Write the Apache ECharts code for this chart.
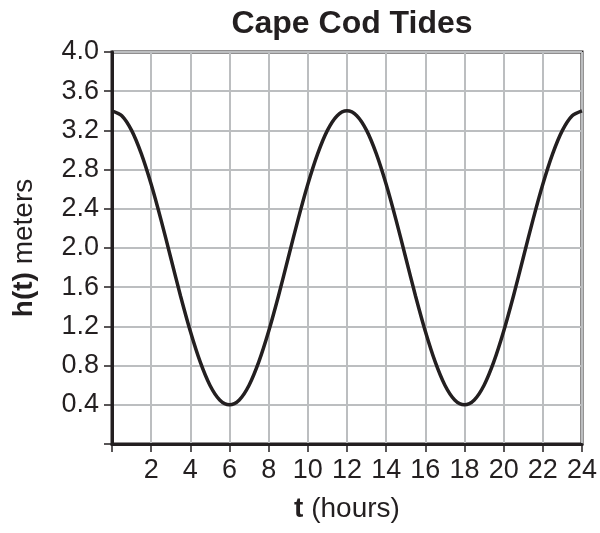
<!DOCTYPE html>
<html>
<head>
<meta charset="utf-8">
<script src="https://cdn.jsdelivr.net/npm/echarts@6/dist/echarts.min.js"></script>
<style>
html,body{margin:0;padding:0;background:#fff;}
#chart{width:600px;height:533px;}
</style>
</head>
<body>
<div id="chart"></div>
<script>
// Time in hours (every half hour)
const hours = [0,0.5,1,1.5,2,2.5,3,3.5,4,4.5,5,5.5,6,6.5,7,7.5,8,8.5,9,9.5,10,10.5,11,11.5,
  12,12.5,13,13.5,14,14.5,15,15.5,16,16.5,17,17.5,18,18.5,19,19.5,20,20.5,21,21.5,22,22.5,23,23.5,24];
// Tide height h(t) in meters
const heights = [3.40,3.35,3.20,2.96,2.65,2.29,1.90,1.51,1.15,0.84,0.60,0.45,0.40,0.45,0.60,0.84,1.15,1.51,1.90,2.29,2.65,2.96,3.20,3.35,
  3.40,3.35,3.20,2.96,2.65,2.29,1.90,1.51,1.15,0.84,0.60,0.45,0.40,0.45,0.60,0.84,1.15,1.51,1.90,2.29,2.65,2.96,3.20,3.35,3.40];
const xTickStep = 2;
const yTickStep = 0.4;
const xRange = [0, 24];
const yRange = [0, 4];

const ink = '#231f20';
const gridGray = '#bcbec0';
const font = 'Liberation Sans, Arial, Helvetica, sans-serif';

const chart = echarts.init(document.getElementById('chart'), null, {renderer: 'canvas'});
chart.setOption({
  animation: false,
  backgroundColor: '#fff',
  title: {
    text: 'Cape Cod Tides',
    left: 347,
    top: 3,
    textAlign: 'center',
    textStyle: {fontFamily: font, fontSize: 32, fontWeight: 'bold', color: ink}
  },
  grid: {
    left: 112, right: 18, top: 52, bottom: 89,
    show: true, borderColor: ink, borderWidth: 3, backgroundColor: 'transparent'
  },
  xAxis: {
    type: 'value',
    min: xRange[0], max: xRange[1], interval: xTickStep,
    name: '{b|t}{r| (hours)}',
    nameLocation: 'middle',
    nameGap: 51,
    nameTextStyle: {
      rich: {
        b: {fontFamily: font, fontSize: 28, fontWeight: 'bold', color: ink},
        r: {fontFamily: font, fontSize: 28, color: ink}
      }
    },
    axisLine: {show: true, onZero: false, lineStyle: {color: ink, width: 3}},
    axisTick: {show: true, length: 8, lineStyle: {color: ink, width: 1.5}},
    axisLabel: {
      margin: 13, fontFamily: font, fontSize: 27, color: ink,
      formatter: v => (Math.abs(v) < 1e-9 ? '' : String(Math.round(v)))
    },
    splitLine: {show: true, lineStyle: {color: gridGray, width: 2}}
  },
  yAxis: {
    type: 'value',
    min: yRange[0], max: yRange[1], interval: yTickStep,
    name: '{b|h(t)}{r| meters}',
    nameLocation: 'middle',
    nameGap: 74,
    nameTextStyle: {
      rich: {
        b: {fontFamily: font, fontSize: 28, fontWeight: 'bold', color: ink},
        r: {fontFamily: font, fontSize: 28, color: ink}
      }
    },
    axisLine: {show: true, onZero: false, lineStyle: {color: ink, width: 3}},
    axisTick: {show: true, length: 8, lineStyle: {color: ink, width: 1.5}},
    axisLabel: {
      margin: 13, fontFamily: font, fontSize: 27, color: ink,
      formatter: v => (Math.abs(v) < 1e-9 ? '' : v.toFixed(1))
    },
    splitLine: {show: true, lineStyle: {color: gridGray, width: 2}}
  },
  series: [{
    type: 'line',
    data: hours.map((t, i) => [t, heights[i]]),
    smooth: 0.3,
    showSymbol: false,
    symbol: 'none',
    lineStyle: {color: ink, width: 3.5},
    z: 5
  }]
});
</script>
</body>
</html>
